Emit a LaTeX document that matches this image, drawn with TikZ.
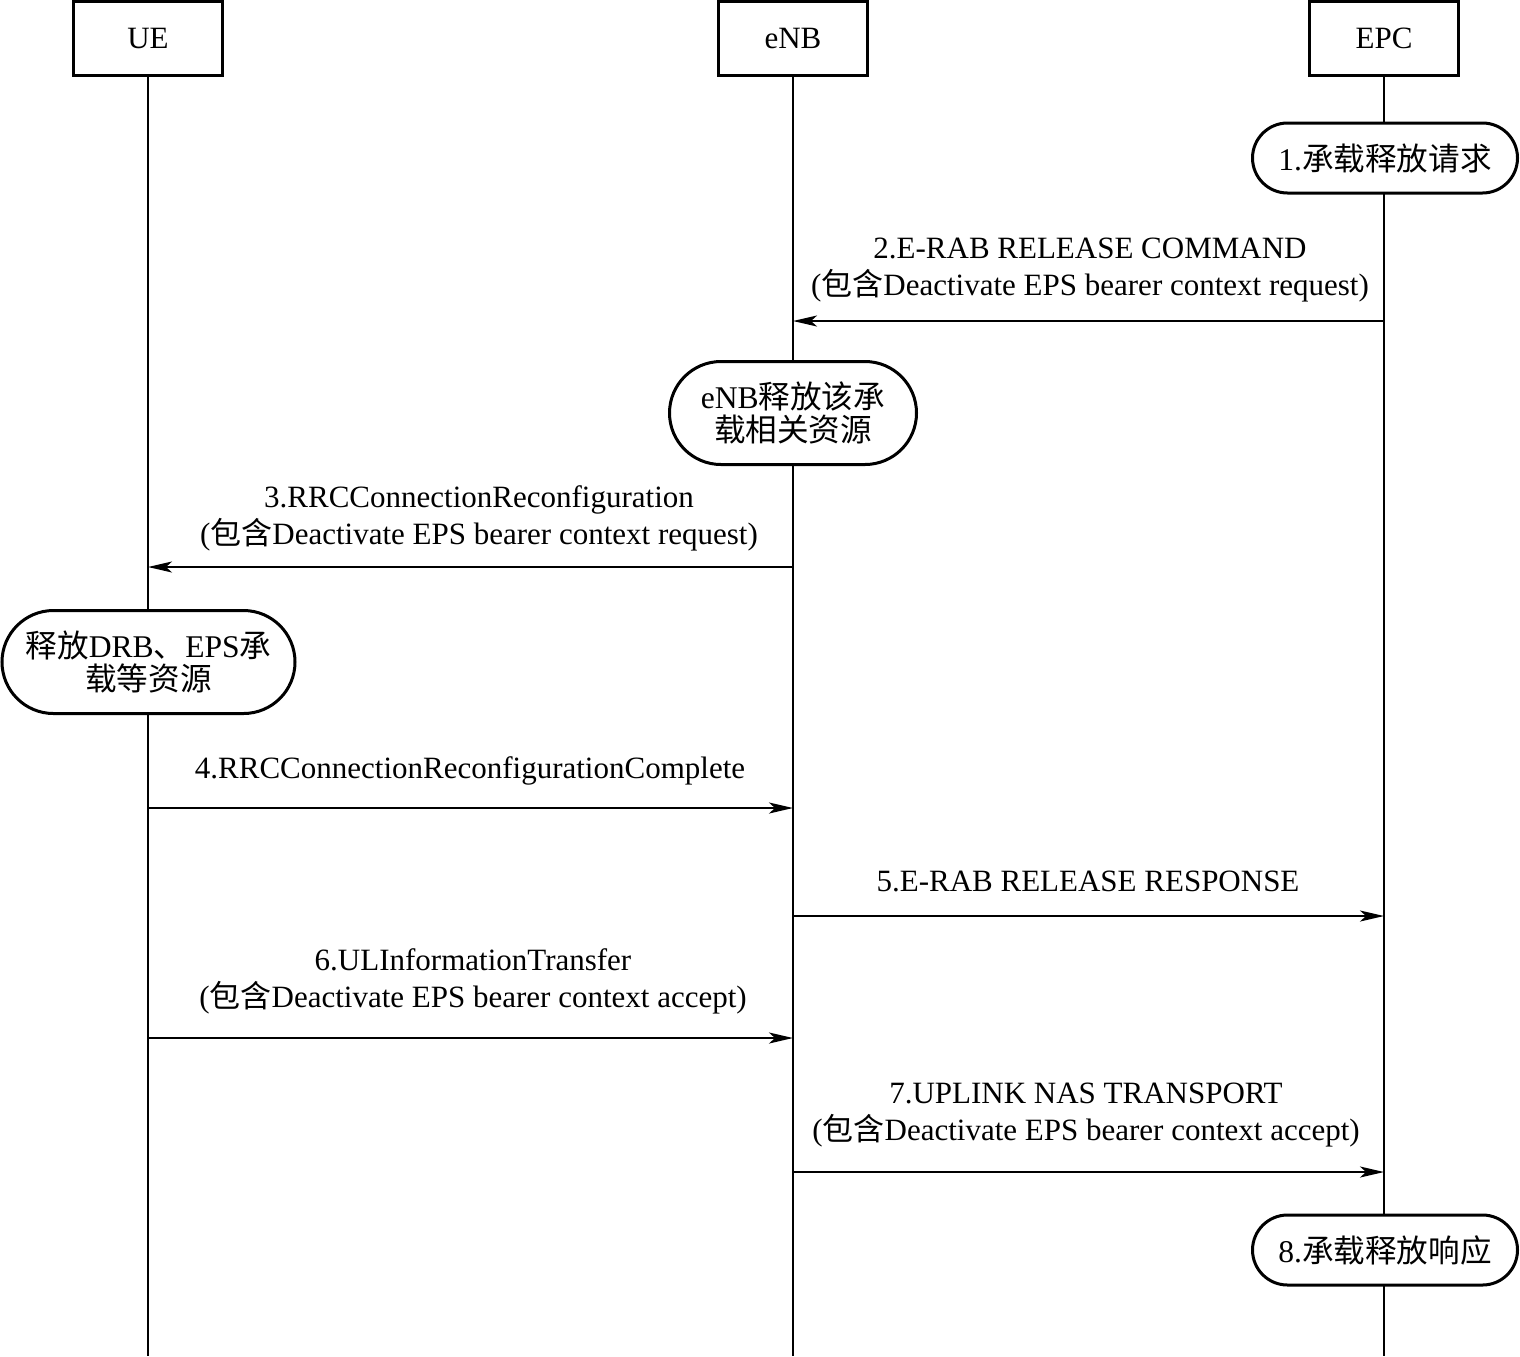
\documentclass[tikz,border=0pt]{standalone}
\usepackage{fontspec}
\setmainfont{Liberation Serif}
\newfontfamily\cjk{Noto Sans CJK SC}
\usetikzlibrary{arrows.meta,shapes.misc}
\begin{document}
\begin{tikzpicture}[x=0.5pt,y=-0.5pt,
 every node/.style={font=\fontsize{15.5}{18.5}\selectfont},
 head/.style={draw, line width=1.5pt, minimum width=74.5pt, minimum height=37pt, inner sep=0pt},
 life/.style={line width=1pt},
 act/.style={draw, fill=white, rounded rectangle, line width=1.5pt, align=center, inner sep=0pt, font=\fontsize{15.8}{16.5}\selectfont},
 msg/.style={line width=1pt, -{Stealth[length=12pt,width=5.5pt,inset=3pt]}},
 lbl/.style={align=center, inner sep=0pt}]
\useasboundingbox (0,0) rectangle (1520,1356);
% heads
\node[head] (ue) at (148,38) {UE};
\node[head] (enb) at (793,38) {eNB};
\node[head] (epc) at (1384,38) {EPC};
\coordinate (ueEnd) at (148,1356);
\coordinate (enbEnd) at (793,1356);
\coordinate (epcEnd) at (1384,1356);
\draw[life] (ue.south) -- (ueEnd);
\draw[life] (enb.south) -- (enbEnd);
\draw[life] (epc.south) -- (epcEnd);
% activity boxes
\node[act, minimum width=132.5pt, minimum height=35pt] (a1) at (1385,158) {1.{\cjk 承载释放请求}};
\node[act, minimum width=123.5pt, minimum height=51.5pt] (a2) at (793,413) {eNB{\cjk 释放该承}\\{\cjk 载相关资源}};
\node[act, minimum width=146.5pt, minimum height=51.5pt] (a3) at (148.5,662) {{\cjk 释放}DRB{\cjk 、}EPS{\cjk 承}\\{\cjk 载等资源}};
\node[act, minimum width=132.5pt, minimum height=35pt] (a8) at (1385,1250) {8.{\cjk 承载释放响应}};
% messages
\coordinate (m2s) at (1384,321); \coordinate (m2e) at (793,321);
\draw[msg] (m2s) -- (m2e);
\node[lbl] (l2) at (1090,270.5) {2.E-RAB RELEASE COMMAND\\({\cjk 包含}Deactivate EPS bearer context request)};
\coordinate (m3s) at (793,567); \coordinate (m3e) at (148,567);
\draw[msg] (m3s) -- (m3e);
\node[lbl] (l3) at (479,518.5) {3.RRCConnectionReconfiguration\\({\cjk 包含}Deactivate EPS bearer context request)};
\coordinate (m4s) at (148,808); \coordinate (m4e) at (793,808);
\draw[msg] (m4s) -- (m4e);
\node[lbl] (l4) at (470,771) {4.RRCConnectionReconfigurationComplete};
\coordinate (m5s) at (793,916); \coordinate (m5e) at (1384,916);
\draw[msg] (m5s) -- (m5e);
\node[lbl] (l5) at (1088,881) {5.E-RAB RELEASE RESPONSE};
\coordinate (m6s) at (148,1038); \coordinate (m6e) at (793,1038);
\draw[msg] (m6s) -- (m6e);
\node[lbl] (l6) at (473,981.5) {6.ULInformationTransfer\\({\cjk 包含}Deactivate EPS bearer context accept)};
\coordinate (m7s) at (793,1172); \coordinate (m7e) at (1384,1172);
\draw[msg] (m7s) -- (m7e);
\node[lbl] (l7) at (1086,1115.5) {7.UPLINK NAS TRANSPORT\\({\cjk 包含}Deactivate EPS bearer context accept)};
\end{tikzpicture}
\end{document}
